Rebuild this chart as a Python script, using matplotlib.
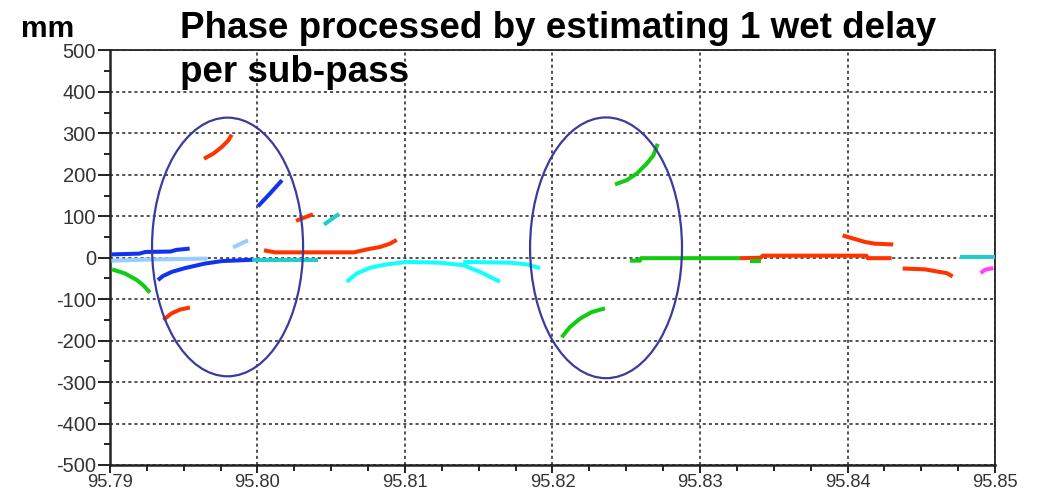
import matplotlib
matplotlib.use('Agg')
import matplotlib.pyplot as plt
from matplotlib.patches import Ellipse

plt.rcParams['font.family'] = ['Liberation Sans', 'DejaVu Sans']
plt.rcParams['axes.unicode_minus'] = False

# ---------------- data ----------------
x_ticks = [95.79, 95.80, 95.81, 95.82, 95.83, 95.84, 95.85]
x_tick_labels = ['95.79', '95.80', '95.81', '95.82', '95.83', '95.84', '95.85']
y_ticks = [-500, -400, -300, -200, -100, 0, 100, 200, 300, 400, 500]
y_tick_labels = ['-500', '-400', '-300', '-200', '-100', '0', '100', '200', '300', '400', '500']

title_line1 = 'Phase processed by estimating 1 wet delay'
title_line2 = 'per sub-pass'
unit_label = 'mm'

# segments: (x values, y values, colour key)
blue_a_x = [95.7901, 95.7920, 95.7924, 95.7941, 95.7945, 95.7954]
blue_a_y = [8, 10, 14, 15, 19, 22]
lightblue_a_x = [95.7901, 95.7930, 95.7966]
lightblue_a_y = [-7, -4, -2]
blue_b_x = [95.79325, 95.79359, 95.7942, 95.79508, 95.79644, 95.79759, 95.79963]
blue_b_y = [-54, -44, -34, -25, -14, -8, -5]
green_a_x = [95.79014, 95.79102, 95.79183, 95.79224, 95.79271]
green_a_y = [-28, -38, -54, -66, -84]
red_a_x = [95.79362, 95.79418, 95.79475, 95.79542]
red_a_y = [-150, -134, -125, -120]
red_b_x = [95.79637, 95.79700, 95.79757, 95.79802, 95.79825]
red_b_y = [239, 251, 267, 283, 297]
lightblue_b_x = [95.79834, 95.79936]
lightblue_b_y = [25, 42]
blue_c_x = [95.80003, 95.80085, 95.80166]
blue_c_y = [124, 155, 187]
teal_a_x = [95.79963, 95.80410]
teal_a_y = [-5, -5]
red_c_x = [95.80261, 95.80376]
red_c_y = [89, 105]
teal_b_x = [95.80451, 95.80553]
teal_b_y = [80, 106]
red_d_x = [95.80044, 95.80119, 95.80654, 95.80740, 95.80831, 95.80898, 95.80944]
red_d_y = [18, 13, 13, 20, 26, 34, 43]
cyan_a_x = [95.80605, 95.80673, 95.80763, 95.80876, 95.81012, 95.81237, 95.81395, 95.81508, 95.81644]
cyan_a_y = [-58, -38, -24, -16, -10, -12, -18, -34, -58]
cyan_b_x = [95.81395, 95.81712, 95.81825, 95.81915]
cyan_b_y = [-10, -12, -16, -25]
green_b_x = [95.82062, 95.82119, 95.82186, 95.82266, 95.82356]
green_b_y = [-192, -167, -147, -131, -122]
green_c_x = [95.82424, 95.82503, 95.82571, 95.82639, 95.82684, 95.82713]
green_c_y = [177, 187, 203, 227, 247, 275]
green_d_x = [95.82525, 95.82593, 95.82600, 95.83271]
green_d_y = [-7, -7, -1, -1]
green_e_x = [95.83339, 95.83414]
green_e_y = [-8, -8]
red_e_x = [95.83271, 95.83411, 95.83425, 95.84128, 95.84137, 95.84299]
red_e_y = [-1, 0, 5, 5, -1, -1]
red_f_x = [95.83967, 95.84003, 95.84062, 95.84119, 95.84186, 95.84310]
red_f_y = [54, 50, 44, 38, 34, 32]
red_g_x = [95.84374, 95.84525, 95.84605, 95.84672, 95.84713]
red_g_y = [-26, -28, -33, -37, -45]
teal_c_x = [95.84763, 95.85]
teal_c_y = [1, 1]
magenta_x = [95.84903, 95.84932, 95.84989]
magenta_y = [-37, -29, -25]

segments = [
    (lightblue_a_x, lightblue_a_y, 'lightblue'),
    (blue_a_x, blue_a_y, 'blue'),
    (green_a_x, green_a_y, 'green'),
    (red_a_x, red_a_y, 'red'),
    (red_b_x, red_b_y, 'red'),
    (lightblue_b_x, lightblue_b_y, 'lightblue'),
    (teal_a_x, teal_a_y, 'teal'),
    (blue_b_x, blue_b_y, 'blue'),
    (blue_c_x, blue_c_y, 'blue'),
    (red_c_x, red_c_y, 'red'),
    (teal_b_x, teal_b_y, 'teal'),
    (red_d_x, red_d_y, 'red'),
    (cyan_a_x, cyan_a_y, 'cyan'),
    (cyan_b_x, cyan_b_y, 'cyan'),
    (green_b_x, green_b_y, 'green'),
    (green_c_x, green_c_y, 'green'),
    (red_e_x, red_e_y, 'red'),
    (green_d_x, green_d_y, 'green'),
    (green_e_x, green_e_y, 'green'),
    (red_f_x, red_f_y, 'red'),
    (red_g_x, red_g_y, 'red'),
    (teal_c_x, teal_c_y, 'teal'),
    (magenta_x, magenta_y, 'magenta'),
]

# highlight ellipses: centre x, centre y, width, height
ellipse_cx = [95.79797, 95.82363]
ellipse_cy = [26, 24]
ellipse_w = [0.01024, 0.0103]
ellipse_h = [624, 629]

colors = {
    'red': '#ff3300',
    'green': '#11cc11',
    'blue': '#1133ee',
    'lightblue': '#99ccff',
    'teal': '#22cccc',
    'cyan': '#11ffff',
    'magenta': '#ff44ff',
}

# ---------------- figure ----------------
W, H = 1039, 492
fig = plt.figure(figsize=(W / 100, H / 100), dpi=100)
ax = fig.add_axes([110 / W, 1 - 465 / H, (995 - 110) / W, (465 - 50.5) / H])

for xs, ys, c in segments:
    ax.plot(xs, ys, color=colors[c], lw=2.9, solid_capstyle='butt', zorder=3)

for cx, cy, w, h in zip(ellipse_cx, ellipse_cy, ellipse_w, ellipse_h):
    ax.add_patch(Ellipse((cx, cy), w, h, fill=False, edgecolor='#3b3b9b',
                         lw=1.6, zorder=4))

ax.set_xlim(95.79, 95.85)
ax.set_ylim(-500, 500)
ax.set_xticks(x_ticks)
ax.set_xticklabels(x_tick_labels)
ax.set_yticks(y_ticks)
ax.set_yticklabels(y_tick_labels)
ax.set_xticks([95.79 + 0.0025 * i for i in range(25)], minor=True)
ax.set_yticks([-500 + 50 * i for i in range(21)], minor=True)

ax.grid(True, which='major', color='#222222', linestyle=(0, (2, 2)), lw=1.1, zorder=1)
ax.set_axisbelow(True)

for s in ax.spines.values():
    s.set_color('#222222')
    s.set_linewidth(1.3)
ax.spines['left'].set_linewidth(1.8)
ax.spines['bottom'].set_linewidth(1.8)

ax.tick_params(axis='both', which='both', direction='out', colors='#222222',
               labelcolor='#333333', width=1.4)
ax.tick_params(axis='y', which='major', length=9, pad=1, labelsize=14.5)
ax.tick_params(axis='y', which='minor', length=4)
ax.tick_params(axis='x', which='major', length=6, pad=0.5, labelsize=13.2)
ax.tick_params(axis='x', which='minor', length=4)

fig.text(180 / W, 1 - 38 / H, title_line1, fontsize=26.5, fontweight='bold',
         ha='left', va='baseline', color='black')
fig.text(180 / W, 1 - 82 / H, title_line2, fontsize=26.5, fontweight='bold',
         ha='left', va='baseline', color='black')
fig.text(21 / W, 1 - 37 / H, unit_label, fontsize=21.5, fontweight='bold',
         ha='left', va='baseline', color='black')

fig.savefig('out.png', dpi=100)
